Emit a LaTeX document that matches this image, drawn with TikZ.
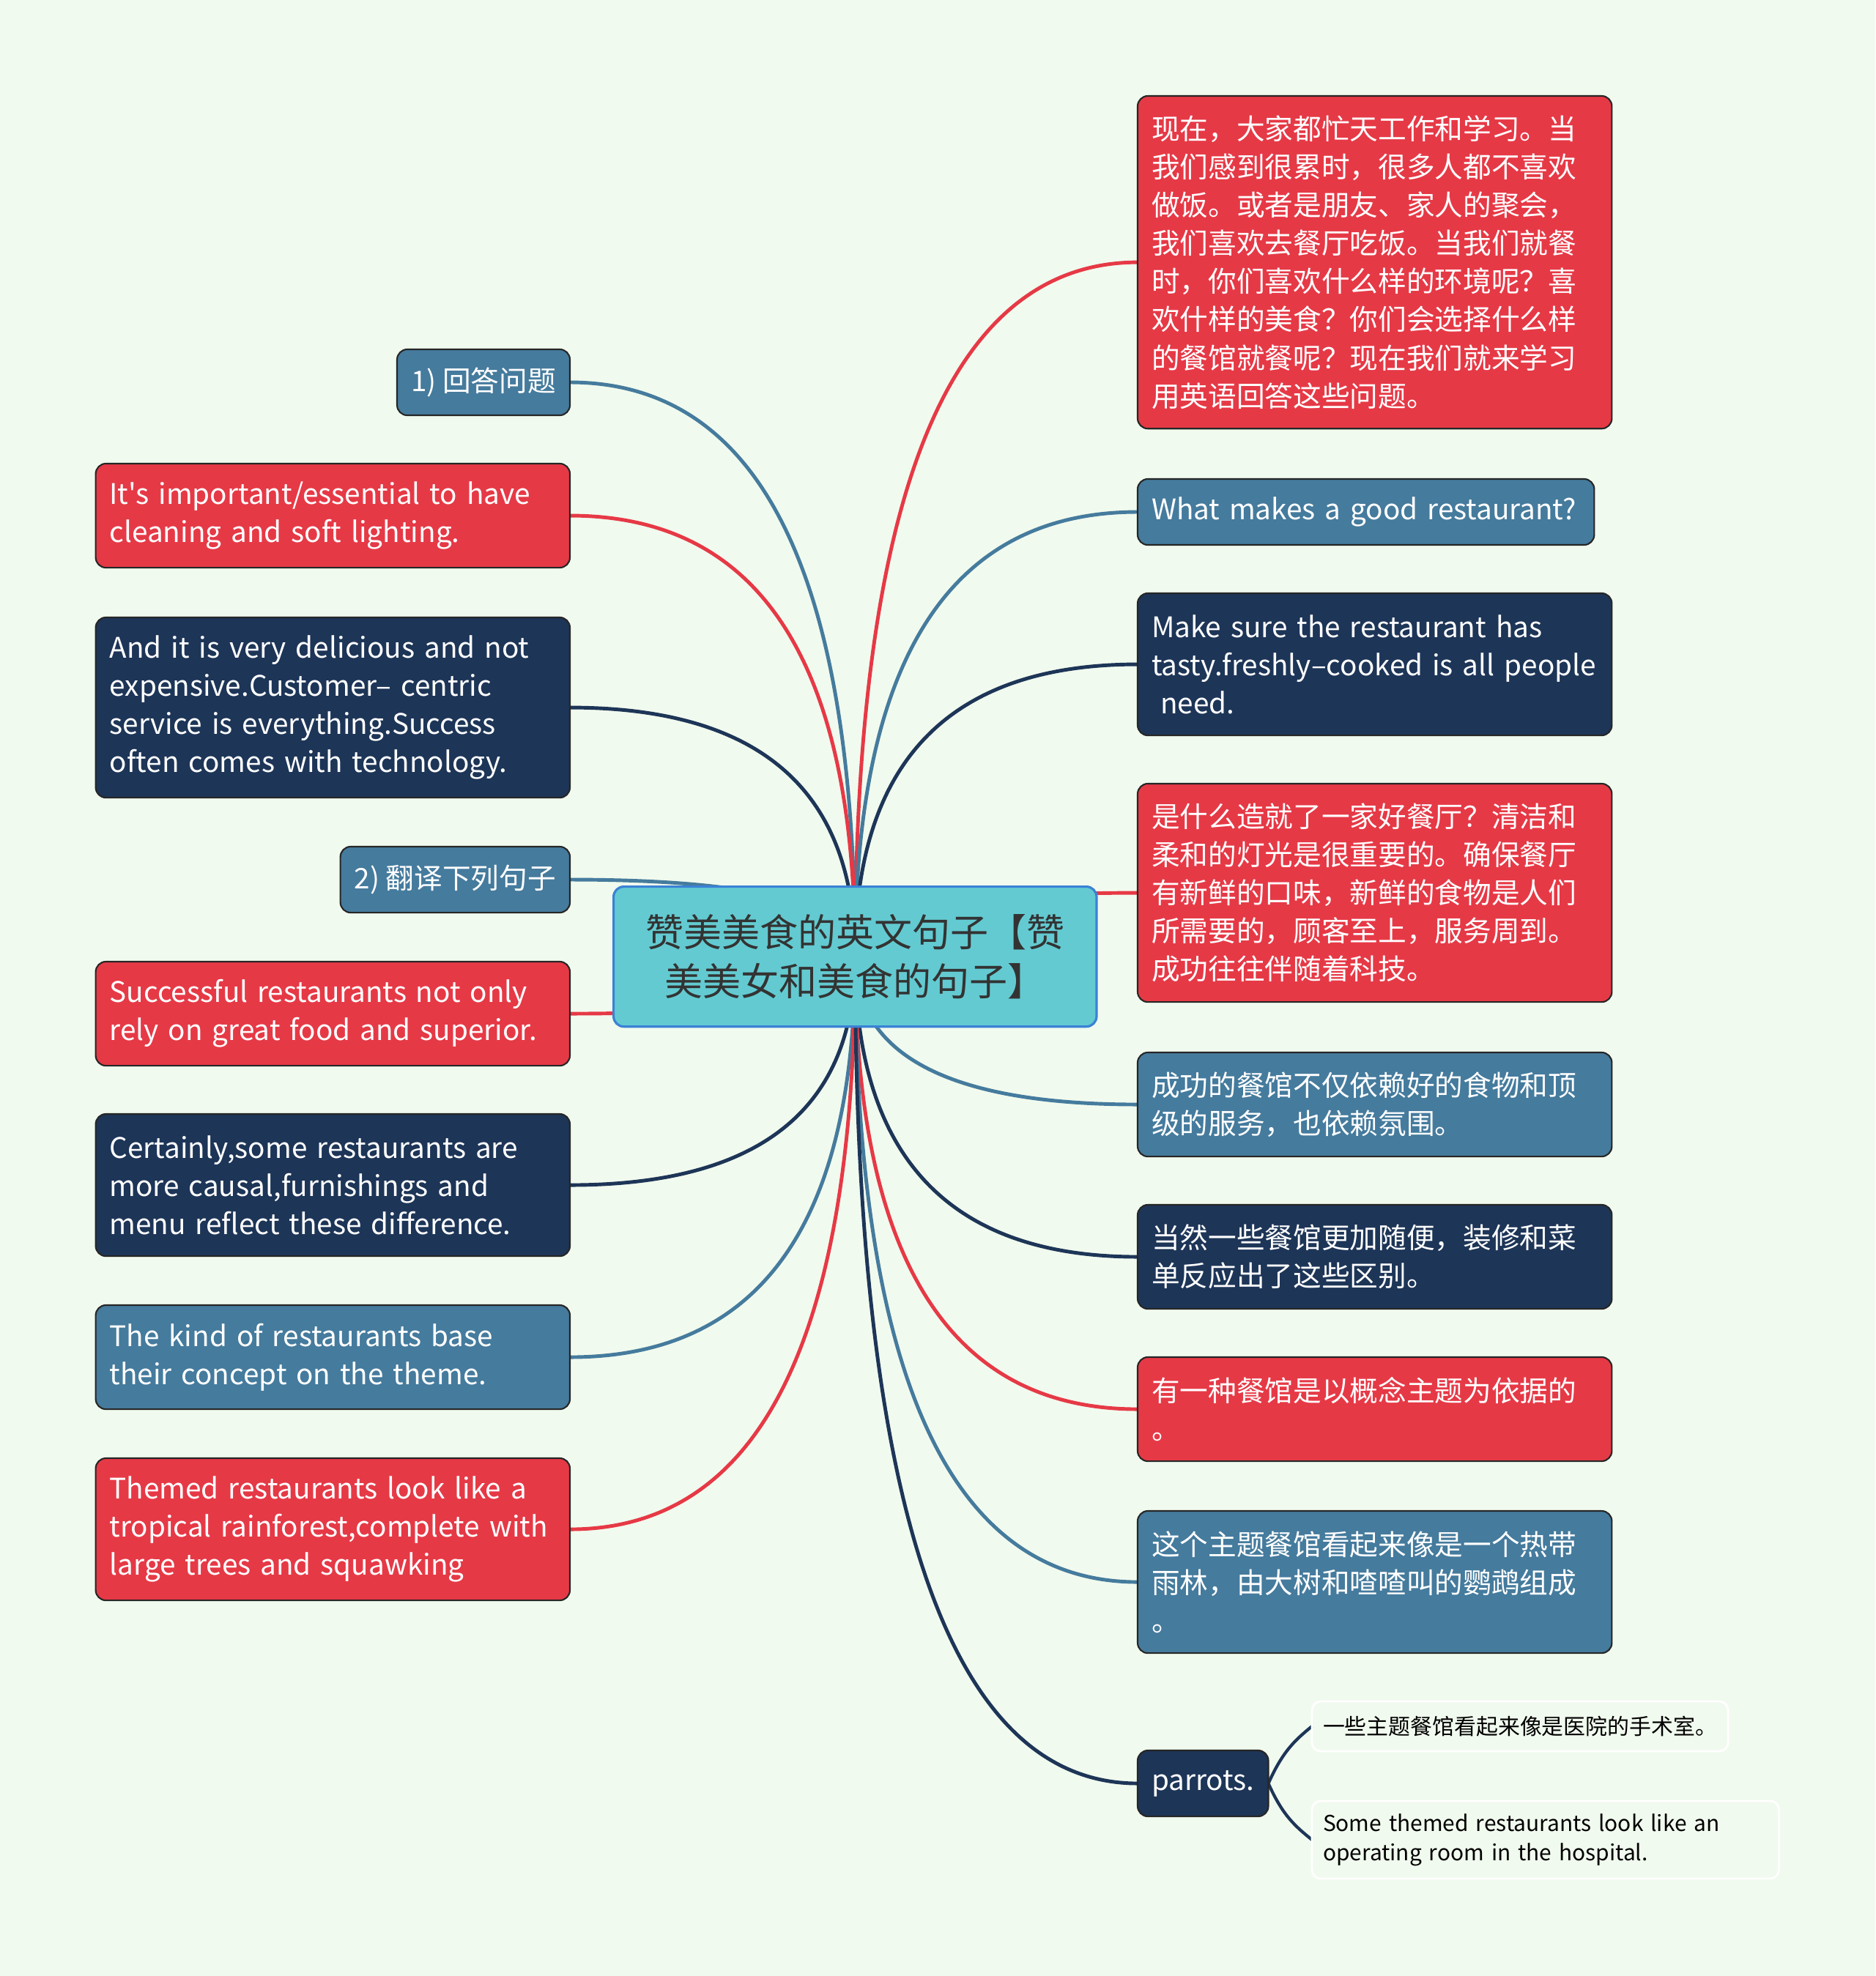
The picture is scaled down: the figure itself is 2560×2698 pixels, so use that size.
\documentclass[tikz,border=0pt]{standalone}
\usepackage{fontspec}
\setmainfont{Noto Sans CJK SC}[Ligatures=TeXOff]
\usetikzlibrary{calc,backgrounds}
\definecolor{nen}{HTML}{F1FAEE}
\definecolor{cred}{HTML}{E63946}
\definecolor{cblue}{HTML}{457B9D}
\definecolor{cnavy}{HTML}{1D3557}
\definecolor{rootfill}{HTML}{63CAD1}
\definecolor{rootline}{HTML}{3A82D6}
\definecolor{txt}{HTML}{333333}
\tikzset{
  box/.style={draw=black!85, line width=.6pt, rounded corners=.14cm, text=white,
    inner xsep=.19cm, inner ysep=0pt, outer sep=0pt, align=left,
    font=\fontsize{11pt}{14.8pt}\selectfont},
  lines/.style={minimum height={#1*0.52cm+0.38cm}},
  wide/.style={text width=6.09cm},
  leaf/.style={draw=white, line width=.8pt, rounded corners=.12cm, text=black,
    inner xsep=.15cm, inner ysep=0pt, outer sep=0pt, align=left, anchor=north west,
    font=\fontsize{8.5pt}{11.3pt}\selectfont},
  branch/.style={line width=1.4pt, to path={.. controls
    ($(\tikztostart)!2/3!(\tikztostart|-\tikztotarget)$) and
    ($(\tikztotarget)!2/3!(\tikztostart|-\tikztotarget)$) .. (\tikztotarget)}}
}
\begin{document}
\begin{tikzpicture}[x=0.01cm,y=-0.01cm,line cap=round,line join=round]
% nut goc
\path (836,1209) node[anchor=north west, minimum width=6.59cm, minimum height=1.91cm,
  fill=rootfill, draw=rootline, line width=.9pt, rounded corners=.14cm, text=txt,
  align=center, font=\fontsize{14.8pt}{19pt}\selectfont] (root)
  {赞美美食的英文句子【赞\\美美女和美食的句子】};
% ben trai
\path[every node/.style={box, anchor=north east}]
(778,477) node[fill=cblue, lines=1] (q1) {1) 回答问题}
(778,633) node[fill=cred, lines=2, wide] (l1) {It's important/essential to have\\cleaning and soft lighting.}
(778,843) node[fill=cnavy, lines=4, wide] (l2) {And it is very delicious and not\\expensive.Customer– centric\\service is everything.Success\\often comes with technology.}
(778,1156) node[fill=cblue, lines=1] (q2) {2) 翻译下列句子}
(778,1313) node[fill=cred, lines=2, wide] (l3) {Successful restaurants not only\\rely on great food and superior.}
(778,1521) node[fill=cnavy, lines=3, wide] (l4) {Certainly,some restaurants are\\more causal,furnishings and\\menu reflect these difference.}
(778,1782) node[fill=cblue, lines=2, wide] (l5) {The kind of restaurants base\\their concept on the theme.}
(778,1991) node[fill=cred, lines=3, wide] (l6) {Themed restaurants look like a\\tropical rainforest,complete with\\large trees and squawking};
% ben phai
\path[every node/.style={box, anchor=north west}]
(1553,131) node[fill=cred, lines=8, wide] (r1) {现在，大家都忙天工作和学习。当\\我们感到很累时，很多人都不喜欢\\做饭。或者是朋友、家人的聚会，\\我们喜欢去餐厅吃饭。当我们就餐\\时，你们喜欢什么样的环境呢？喜\\欢什样的美食？你们会选择什么样\\的餐馆就餐呢？现在我们就来学习\\用英语回答这些问题。}
(1553,654) node[fill=cblue, lines=1, text width=5.85cm] (r2) {What makes a good restaurant?}
(1553,810) node[fill=cnavy, lines=3, wide] (r3) {Make sure the restaurant has\\tasty.freshly–cooked is all people\\\hspace*{3.5pt}need.}
(1553,1070) node[fill=cred, lines=5, wide] (r4) {是什么造就了一家好餐厅？清洁和\\柔和的灯光是很重要的。确保餐厅\\有新鲜的口味，新鲜的食物是人们\\所需要的，顾客至上，服务周到。\\成功往往伴随着科技。}
(1553,1437) node[fill=cblue, lines=2, wide] (r5) {成功的餐馆不仅依赖好的食物和顶\\级的服务，也依赖氛围。}
(1553,1645) node[fill=cnavy, lines=2, wide] (r6) {当然一些餐馆更加随便，装修和菜\\单反应出了这些区别。}
(1553,1853) node[fill=cred, lines=2, wide] (r7) {有一种餐馆是以概念主题为依据的\\。}
(1553,2063) node[fill=cblue, lines=3, wide] (r8) {这个主题餐馆看起来像是一个热带\\雨林，由大树和喳喳叫的鹦鹉组成\\。}
(1553,2390) node[fill=cnavy, lines=1] (r9) {parrots.};
\path
(1791,2323) node[leaf, minimum height=.68cm] (c1) {一些主题餐馆看起来像是医院的手术室。}
(1791,2459) node[leaf, minimum height=1.06cm, text width=6.07cm] (c2) {Some themed restaurants look like an\\operating room in the hospital.};
\begin{scope}[on background layer]
\fill[nen] (0,0) rectangle (2560,2698);
\draw[branch, cblue] (root.center) to (q1.east);
\draw[branch, cred] (root.center) to (l1.east);
\draw[branch, cnavy] (root.center) to (l2.east);
\draw[branch, cblue] (root.center) to (q2.east);
\draw[branch, cred] (root.center) to (l3.east);
\draw[branch, cnavy] (root.center) to (l4.east);
\draw[branch, cblue] (root.center) to (l5.east);
\draw[branch, cred] (root.center) to (l6.east);
\draw[branch, cred] (root.center) to (r1.west);
\draw[branch, cblue] (root.center) to (r2.west);
\draw[branch, cnavy] (root.center) to (r3.west);
\draw[branch, cred] (root.center) to (r4.west);
\draw[branch, cblue] (root.center) to (r5.west);
\draw[branch, cnavy] (root.center) to (r6.west);
\draw[branch, cred] (root.center) to (r7.west);
\draw[branch, cblue] (root.center) to (r8.west);
\draw[branch, cnavy] (root.center) to (r9.west);
\draw[cnavy, line width=1.2pt] (r9.east) .. controls +(20,-45) and +(-22,18) .. (c1.west);
\draw[cnavy, line width=1.2pt] (r9.east) .. controls +(20,45) and +(-22,-18) .. (c2.west);
\end{scope}
\end{tikzpicture}
\end{document}
